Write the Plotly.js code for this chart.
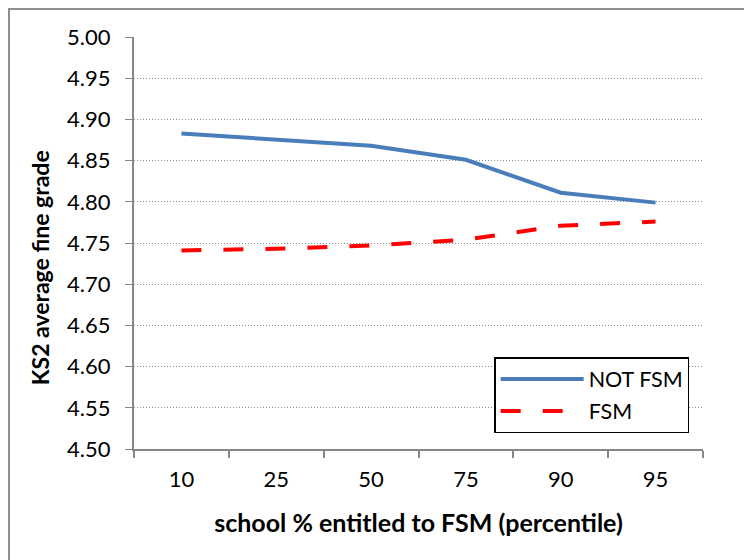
<!DOCTYPE html>
<html>
<head>
<meta charset="utf-8">
<script src="https://cdn.plot.ly/plotly-3.0.1.min.js"></script>
<style>
  body { margin: 0; background: #fff; }
  #wrap { position: relative; width: 744px; height: 560px; overflow: hidden; }
  #frame { position: absolute; left: 8px; top: 8px; width: 800px; height: 600px;
           border: 2px solid #8f8f8f; pointer-events: none; }
</style>
</head>
<body>
<div id="wrap">
  <div id="chart" style="width:744px;height:560px;"></div>
  <div id="frame"></div>
</div>
<script>
// percentile of school FSM share
var percentiles = ['10', '25', '50', '75', '90', '95'];
// KS2 average fine grade by pupil group
var not_fsm = [4.883, 4.876, 4.868, 4.851, 4.811, 4.799];
var fsm = [4.741, 4.743, 4.747, 4.754, 4.771, 4.776];
var y_ticks = [4.50, 4.55, 4.60, 4.65, 4.70, 4.75, 4.80, 4.85, 4.90, 4.95, 5.00];

var trace_not = {
  x: percentiles,
  y: not_fsm,
  name: 'NOT FSM',
  legendgroup: 'a',
  type: 'scatter',
  mode: 'lines',
  line: { color: '#4a7ebb', width: 4 }
};

var trace_fsm = {
  x: percentiles,
  y: fsm,
  name: 'FSM',
  legendgroup: 'b',
  type: 'scatter',
  mode: 'lines',
  line: { color: '#ff0000', width: 4, dash: '20px,22px' }
};

var font = "Lato, 'Open Sans', sans-serif";

var layout = {
  width: 744,
  height: 560,
  margin: { l: 134, r: 41, t: 37, b: 111 },
  paper_bgcolor: '#fff',
  plot_bgcolor: '#fff',
  font: { family: font, size: 20, color: '#000' },
  showlegend: true,
  legend: {
    x: 0.633, y: 0.223, xanchor: 'left', yanchor: 'top',
    bgcolor: '#fff', bordercolor: '#000', borderwidth: 1.5,
    font: { size: 21.5 },
    itemwidth: 83,
    tracegroupgap: 1
  },
  xaxis: {
    type: 'category',
    range: [-0.5, 5.5],
    showline: true, linecolor: '#868686', linewidth: 2,
    ticks: 'outside', tickson: 'boundaries', ticklen: 7, tickcolor: '#868686', tickwidth: 2,
    ticklabelstandoff: 10,
    showgrid: false, zeroline: false,
    tickfont: { size: 22 },
    title: { text: '<b>school % entitled to FSM (percentile)</b>', font: { size: 25 }, standoff: 23 }
  },
  yaxis: {
    range: [4.5, 5.0],
    tickvals: y_ticks,
    ticktext: y_ticks.map(function (v) { return v.toFixed(2); }),
    showline: true, linecolor: '#868686', linewidth: 2,
    ticks: 'outside', ticklen: 7, tickcolor: '#868686', tickwidth: 1,
    ticklabelstandoff: 10,
    showgrid: true, gridcolor: '#8a8a8a', griddash: '1px,2px', gridwidth: 1.2,
    zeroline: false,
    tickfont: { size: 22 }
  },
  annotations: [{
    text: '<b>KS2 average fine grade</b>',
    textangle: -90,
    xref: 'paper', yref: 'paper',
    x: -0.165, y: 0.439,
    xanchor: 'center', yanchor: 'middle',
    showarrow: false,
    font: { size: 23 }
  }]
};

Plotly.newPlot('chart', [trace_not, trace_fsm], layout, { displayModeBar: false });
</script>
</body>
</html>
